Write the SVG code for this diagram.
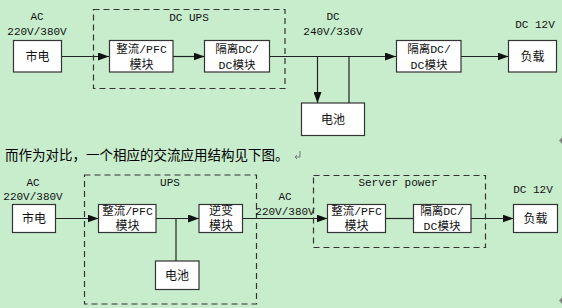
<svg xmlns="http://www.w3.org/2000/svg" width="562" height="308" viewBox="0 0 562 308">
<defs>
<style>
.box{fill:#fff;stroke:#333;stroke-width:1.2}
.dash{fill:none;stroke:#333;stroke-width:1.2;stroke-dasharray:6,4}
.ln{fill:none;stroke:#222;stroke-width:1.2}
.lbl{font-family:"Liberation Mono","Noto Sans CJK SC",monospace;font-size:11px;fill:#111;text-anchor:middle}
.bt{font-family:"Liberation Mono","Noto Sans CJK SC",monospace;font-size:11.5px;fill:#111;text-anchor:middle}
.cj{font-family:"Noto Sans CJK SC",sans-serif;font-size:12px;fill:#111;text-anchor:middle}
.para{font-family:"Noto Sans CJK SC",sans-serif;font-size:13.5px;fill:#000}
</style>
<marker id="ah" markerWidth="11" markerHeight="8" refX="11" refY="4" orient="auto" markerUnits="userSpaceOnUse">
<path d="M0,0 L11,4 L0,8 Z" fill="#111"/>
</marker>
</defs>
<rect width="562" height="308" fill="#c7edcc"/>

<g id="connectors">
<line class="ln" x1="61.5" y1="56.5" x2="109" y2="56.5" marker-end="url(#ah)"/>
<line class="ln" x1="173" y1="56.5" x2="204.5" y2="56.5" marker-end="url(#ah)"/>
<line class="ln" x1="269.5" y1="56.5" x2="396" y2="56.5" marker-end="url(#ah)"/>
<line class="ln" x1="317.5" y1="56.5" x2="317.5" y2="103" marker-end="url(#ah)"/>
<line class="ln" x1="349" y1="56.5" x2="349" y2="103"/>
<line class="ln" x1="461" y1="56.5" x2="508.5" y2="56.5" marker-end="url(#ah)"/>

<line class="ln" x1="55.5" y1="218.5" x2="98.5" y2="218.5" marker-end="url(#ah)"/>
<line class="ln" x1="156" y1="218.5" x2="199" y2="218.5" marker-end="url(#ah)"/>
<line class="ln" x1="176" y1="218.5" x2="176" y2="261"/>
<line class="ln" x1="242.5" y1="218.5" x2="327.5" y2="218.5" marker-end="url(#ah)"/>
<line class="ln" x1="385.5" y1="218.5" x2="413.5" y2="218.5"/>
<line class="ln" x1="471" y1="218.5" x2="513.5" y2="218.5" marker-end="url(#ah)"/>
</g>

<g id="dcups">
<rect class="dash" x="93.5" y="9.5" width="191.5" height="79"/>
<text class="lbl" x="189" y="21">DC UPS</text>
</g>
<g id="lbl-ac1">
<text class="lbl" x="37" y="20">AC</text>
<text class="lbl" x="37" y="35">220V/380V</text>
</g>
<g id="lbl-dc1">
<text class="lbl" x="333" y="20">DC</text>
<text class="lbl" x="333" y="35">240V/336V</text>
</g>
<g id="lbl-dc12-1">
<text class="lbl" x="535" y="28">DC 12V</text>
</g>
<g id="mains1">
<rect class="box" x="13.5" y="40.5" width="48" height="31.5"/>
<text class="cj" x="37.5" y="61">市电</text>
</g>
<g id="pfc1">
<rect class="box" x="109.5" y="40.5" width="63.5" height="31.5"/>
<text class="bt" x="141.5" y="52.5">整流/PFC</text>
<text class="cj" x="141.5" y="68.5">模块</text>
</g>
<g id="dcdc1">
<rect class="box" x="204.5" y="40.5" width="65" height="31.5"/>
<text class="bt" x="237" y="52.5">隔离DC/</text>
<text class="bt" x="237" y="68.5">DC模块</text>
</g>
<g id="dcdc2">
<rect class="box" x="396.5" y="40.5" width="64.5" height="31.5"/>
<text class="bt" x="429" y="52.5">隔离DC/</text>
<text class="bt" x="429" y="68.5">DC模块</text>
</g>
<g id="battery1">
<rect class="box" x="301.5" y="103" width="63" height="32.5"/>
<text class="cj" x="333" y="124">电池</text>
</g>
<g id="load1">
<rect class="box" x="508.5" y="40.5" width="48" height="31.5"/>
<text class="cj" x="532.5" y="61">负载</text>
</g>

<g id="paragraph">
<text class="para" x="5" y="160">而作为对比，一个相应的交流应用结构见下图。</text>
<path d="M300,151 V157 H295 M297,155 L295,157 L297,159" fill="none" stroke="#777" stroke-width="1"/>
<path d="M562,137 L559,140.5 L562,144 Z" fill="#888"/>
<path d="M562,297 L559,300.5 L562,304 Z" fill="#888"/>
</g>

<g id="ups">
<rect class="dash" x="84.5" y="175" width="172" height="129"/>
<text class="lbl" x="170" y="186">UPS</text>
</g>
<g id="lbl-ac2">
<text class="lbl" x="33" y="186">AC</text>
<text class="lbl" x="33" y="200">220V/380V</text>
</g>
<g id="lbl-ac3">
<text class="lbl" x="285" y="200">AC</text>
<text class="lbl" x="285" y="215">220V/380V</text>
</g>
<g id="server">
<rect class="dash" x="313.5" y="175.5" width="172" height="72"/>
<text class="lbl" x="398" y="186">Server power</text>
</g>
<g id="lbl-dc12-2">
<text class="lbl" x="533" y="193">DC 12V</text>
</g>
<g id="mains2">
<rect class="box" x="12.5" y="204.5" width="43" height="28"/>
<text class="cj" x="34" y="223">市电</text>
</g>
<g id="pfc2">
<rect class="box" x="98.5" y="204.5" width="57.5" height="28"/>
<text class="bt" x="127.5" y="214.5">整流/PFC</text>
<text class="cj" x="127.5" y="230">模块</text>
</g>
<g id="inverter">
<rect class="box" x="199" y="204.5" width="43.5" height="28"/>
<text class="cj" x="221" y="214.5">逆变</text>
<text class="cj" x="221" y="230">模块</text>
</g>
<g id="battery2">
<rect class="box" x="155.5" y="261" width="43.5" height="28.5"/>
<text class="cj" x="177" y="280">电池</text>
</g>
<g id="pfc3">
<rect class="box" x="327.5" y="204.5" width="58" height="28"/>
<text class="bt" x="356.5" y="214.5">整流/PFC</text>
<text class="cj" x="356.5" y="230">模块</text>
</g>
<g id="dcdc3">
<rect class="box" x="413.5" y="204.5" width="57.5" height="28"/>
<text class="bt" x="442" y="214.5">隔离DC/</text>
<text class="bt" x="442" y="230">DC模块</text>
</g>
<g id="load2">
<rect class="box" x="513.5" y="204.5" width="44" height="28"/>
<text class="cj" x="535.5" y="223">负载</text>
</g>
</svg>
